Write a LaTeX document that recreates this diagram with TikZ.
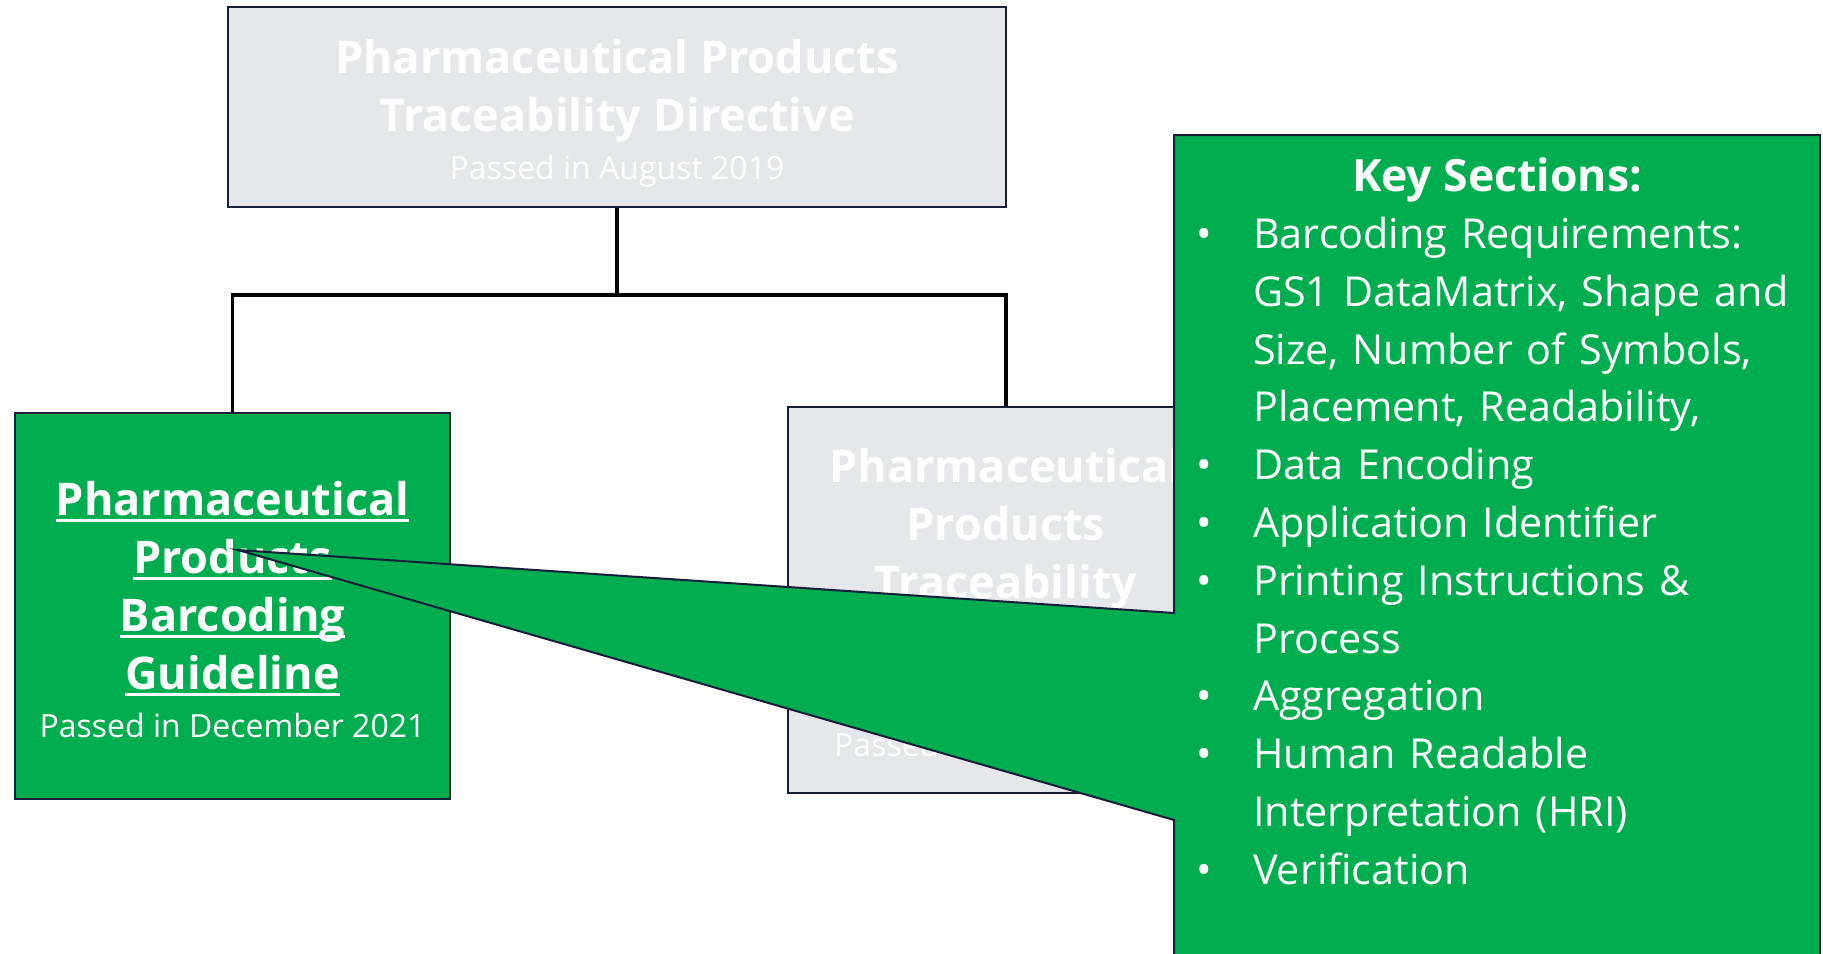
\documentclass[tikz,border=0pt]{standalone}
\usepackage{fontspec}
\setmainfont{Open Sans}
\usetikzlibrary{positioning}

\definecolor{kgreen}{RGB}{0,173,79}
\definecolor{kgray}{RGB}{230,231,235}
\definecolor{knavy}{RGB}{22,30,58}

\newcommand{\fixsp}{\spaceskip=\fontdimen2\font\relax\xspaceskip=\spaceskip}
\newsavebox\ulbox
\newcommand{\ulword}[1]{\leavevmode\sbox\ulbox{#1}\rlap{\rule[-6pt]{\wd\ulbox}{2.5pt}}\usebox\ulbox\par}
\newcommand{\kbul}{\noindent\llap{\makebox[57pt][l]{\textbullet}}}
\newcommand{\ttlfont}{\fontsize{45}{58}\selectfont\bfseries\fixsp}
\newcommand{\subfont}{\fontsize{32}{48}\selectfont\fixsp}

\begin{document}
\begin{tikzpicture}[x=1pt, y=-1pt]
	\tikzset{lvl/.style={draw=knavy, line width=2pt},
	gbox/.style={lvl, fill=kgreen},
	grbox/.style={lvl, fill=kgray},
	txt/.style={text=white, align=center, inner sep=0pt},
	conn/.style={line width=3.5pt, black}};

	\useasboundingbox (0,0) rectangle (1823,953);

	% boxes
	\node[grbox, minimum width=778pt, minimum height=200pt] (dir) at (617,107) {};
	\node[gbox, minimum width=435pt, minimum height=386pt] (guide) at (232.5,606) {};
	\node[grbox, minimum width=436pt, minimum height=386pt] (reg) at (1006,600) {};

	\node[txt, text width=760pt] (dirtxt) at (617,113)
		{{\ttlfont Pharmaceutical Products\par Traceability Directive\par}{\subfont Passed in August 2019\par}};
	\node[txt, text width=420pt] (guidetxt) at (232.5,610)
		{{\ttlfont \ulword{Pharmaceutical}\ulword{Products}\ulword{Barcoding}\ulword{Guideline}}{\subfont Passed in December 2021\par}};
	\node[txt, font=\ttlfont] (regtitle) at (1006,529) {Pharmaceutical\\Products\\Traceability};
	\node[txt, anchor=west, font=\subfont] (regsub) at (834,744) {Passed};

	\coordinate (split) at (617,295);
	\draw[conn] (dir.south) -- (split);
	\draw[conn] (split) -| (guide.north);
	\draw[conn] (split) -| (reg.north);

	% callout
	\coordinate (tip) at (238,550);
	\filldraw[fill=kgreen, draw=knavy, line width=2pt] (1174,135) -- (1820,135) -- (1820,975)
		-- (1174,975) -- (1174,820) -- (tip) -- (1174,613) -- cycle;

	\node[txt, font=\fontsize{44.5}{50}\selectfont\bfseries\fixsp] (keyhd) at (1497,180) {Key Sections:};
	\node[text=white, anchor=north west, inner sep=0pt, text width=565pt, align=left,
		font=\fontsize{41.3}{57.8}\selectfont\fixsp] (keylist) at (1253,217) {%
		\leftskip=0pt
		\kbul Barcoding Requirements:\par GS1 DataMatrix, Shape and\par Size, Number of Symbols,\par Placement, Readability,\par
		\kbul Data Encoding\par
		\kbul Application Identifier\par
		\kbul Printing Instructions \&\par Process\par
		\kbul Aggregation\par
		\kbul Human Readable\par Interpretation (HRI)\par
		\kbul Verification\par};
\end{tikzpicture}
\end{document}
